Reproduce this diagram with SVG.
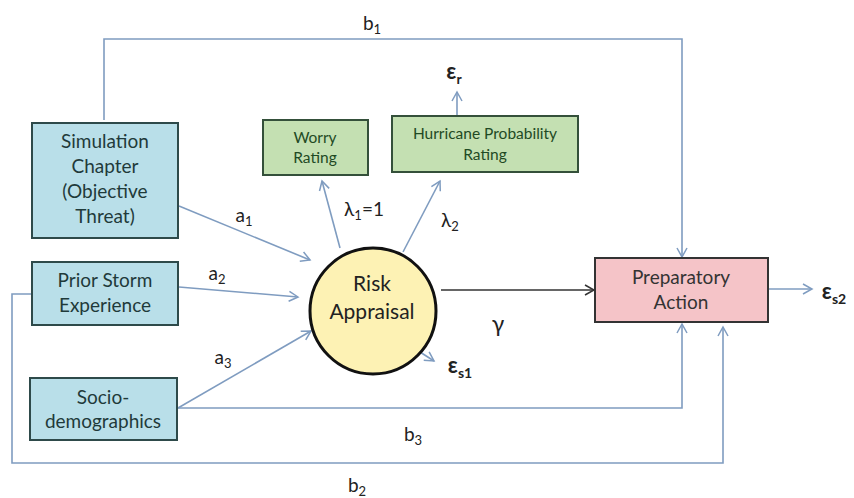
<svg xmlns="http://www.w3.org/2000/svg" width="854" height="498" viewBox="0 0 854 498">
<defs>
<marker id="ab" markerWidth="12" markerHeight="12" refX="10" refY="6" orient="auto" markerUnits="userSpaceOnUse">
<path d="M1,1 L10,6 L1,11" fill="none" stroke="#7f9cc0" stroke-width="1.5"/>
</marker>
<marker id="ak" markerWidth="12" markerHeight="12" refX="10" refY="6" orient="auto" markerUnits="userSpaceOnUse">
<path d="M1,1 L10,6 L1,11" fill="none" stroke="#333" stroke-width="1.5"/>
</marker>
<style>
text{font-family:Lato,"Open Sans","Liberation Sans",sans-serif;text-anchor:middle}
.blue{fill:#b9dfe9;stroke:#2e4a4a;stroke-width:2}
.green{fill:#c4e0b2;stroke:#34503a;stroke-width:2}
.pink{fill:#f5c4c8;stroke:#333;stroke-width:2}
.nt{font-size:19px;fill:#1f3a3a}
.gt{font-size:15.5px;fill:#1f4a24}
.lbl{font-size:19px;fill:#222}
.eps{font-size:22px;fill:#222;font-weight:bold}
.c{fill:none;stroke:#7f9cc0;stroke-width:1.6}
.sub{font-size:13px}
</style>
</defs>
<g id="connectors">
<polyline class="c" points="104,120 104,39 682,39 682,257" marker-end="url(#ab)"/>
<line class="c" x1="179" y1="206" x2="310" y2="260" marker-end="url(#ab)"/>
<line class="c" x1="179" y1="287" x2="298" y2="297" marker-end="url(#ab)"/>
<line class="c" x1="178" y1="408" x2="311" y2="331" marker-end="url(#ab)"/>
<polyline class="c" points="178,408 682,408 682,324" marker-end="url(#ab)"/>
<polyline class="c" points="32,294 12,294 12,463 723,463 723,327" marker-end="url(#ab)"/>
<line class="c" x1="340" y1="248" x2="322" y2="181" marker-end="url(#ab)"/>
<line class="c" x1="403" y1="252" x2="440" y2="181" marker-end="url(#ab)"/>
<line class="c" x1="457" y1="115" x2="457" y2="92" marker-end="url(#ab)"/>
<line class="c" x1="420" y1="352" x2="434" y2="361" marker-end="url(#ab)"/>
<line class="c" x1="769" y1="289" x2="812" y2="289" marker-end="url(#ab)"/>
<line x1="441" y1="290" x2="594" y2="290" stroke="#333" stroke-width="1.6" marker-end="url(#ak)"/>
</g>
<g id="sim">
<rect class="blue" x="32" y="123" width="146" height="115"/>
<text class="nt" x="105" y="148">Simulation</text>
<text class="nt" x="105" y="173">Chapter</text>
<text class="nt" x="105" y="198">(Objective</text>
<text class="nt" x="105" y="223">Threat)</text>
</g>
<g id="prior">
<rect class="blue" x="32" y="262" width="146" height="63"/>
<text class="nt" x="105" y="287">Prior Storm</text>
<text class="nt" x="105" y="312">Experience</text>
</g>
<g id="socio">
<rect class="blue" x="30" y="378" width="147" height="62"/>
<text class="nt" x="103" y="404">Socio-</text>
<text class="nt" x="103" y="428">demographics</text>
</g>
<g id="worry">
<rect class="green" x="263" y="120" width="105" height="55"/>
<text class="gt" x="315" y="143">Worry</text>
<text class="gt" x="315" y="163">Rating</text>
</g>
<g id="hurricane">
<rect class="green" x="392" y="116" width="186" height="56"/>
<text class="gt" x="485" y="139">Hurricane Probability</text>
<text class="gt" x="485" y="160">Rating</text>
</g>
<g id="risk">
<circle cx="373" cy="311" r="63" fill="#fdf2b4" stroke="#111" stroke-width="3"/>
<text x="372" y="291" style="font-size:21px;fill:#222">Risk</text>
<text x="372" y="319" style="font-size:21px;fill:#222">Appraisal</text>
</g>
<g id="prep">
<rect class="pink" x="595" y="258" width="173" height="64"/>
<text x="681" y="284" style="font-size:19px;fill:#333">Preparatory</text>
<text x="681" y="309" style="font-size:19px;fill:#333">Action</text>
</g>
<g id="labels">
<text class="lbl" x="372" y="30">b<tspan class="sub" dy="4">1</tspan></text>
<text class="lbl" x="244" y="222">a<tspan class="sub" dy="4">1</tspan></text>
<text class="lbl" x="217" y="280">a<tspan class="sub" dy="4">2</tspan></text>
<text class="lbl" x="223" y="364">a<tspan class="sub" dy="4">3</tspan></text>
<text class="lbl" x="364" y="216">λ<tspan class="sub" dy="4">1</tspan><tspan dy="-4">=1</tspan></text>
<text class="lbl" x="450" y="227">λ<tspan class="sub" dy="4">2</tspan></text>
<text x="498" y="332" style="font-size:23px;fill:#222">γ</text>
<text class="lbl" x="413" y="441">b<tspan class="sub" dy="4">3</tspan></text>
<text class="lbl" x="357" y="492">b<tspan class="sub" dy="4">2</tspan></text>
<text class="eps" x="454" y="79">ε<tspan style="font-size:14px" dy="5">r</tspan></text>
<text class="eps" x="460" y="373">ε<tspan style="font-size:14px" dy="5">s1</tspan></text>
<text class="eps" x="834" y="299">ε<tspan style="font-size:14px" dy="5">s2</tspan></text>
</g>
</svg>
